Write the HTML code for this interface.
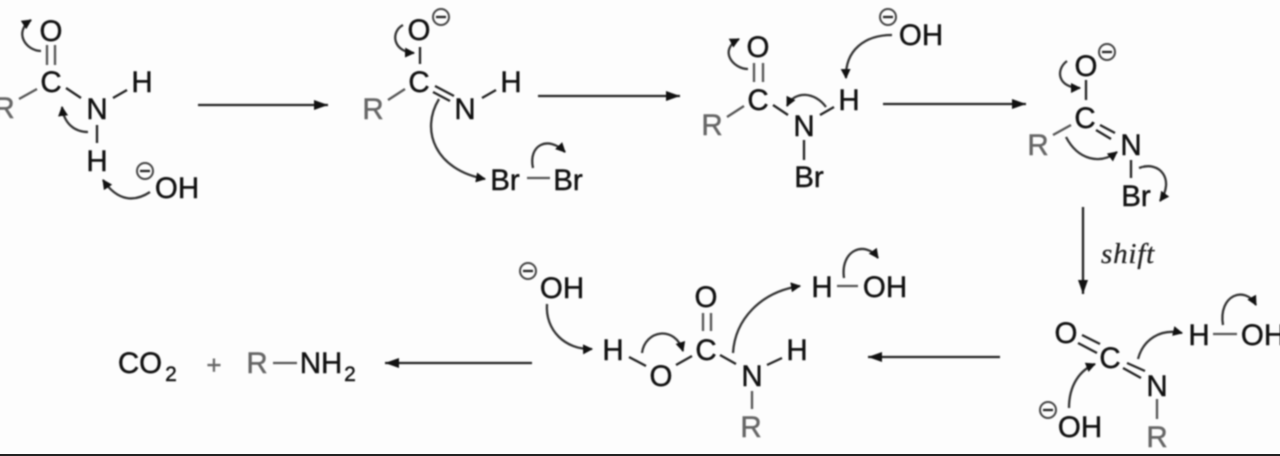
<!DOCTYPE html>
<html><head><meta charset="utf-8"><style>
html,body{margin:0;padding:0;background:#fdfdfd}
svg{display:block;width:1280px;height:456px;overflow:hidden}
#m{filter:blur(.7px)}
text{font-family:"Liberation Sans",sans-serif;font-size:29.5px;fill:#111;stroke:#111;stroke-width:.45px;text-anchor:middle}
.r{fill:#666;stroke:#666}
.s{font-size:21px}
.sh{font-family:"Liberation Serif",serif;font-style:italic;font-size:29px;letter-spacing:.8px;fill:#222;stroke:#222;stroke-width:.3px;text-anchor:start}
.b{stroke:#222;stroke-width:2.3;fill:none}
.g{stroke:#555;stroke-width:2.3;fill:none}
.c{stroke:#333;stroke-width:2.3;fill:none;marker-end:url(#hc)}
.a{stroke:#222;stroke-width:2.3;fill:none;marker-end:url(#ha)}
.m{fill:none;stroke:#444;stroke-width:2}
</style></head><body>
<svg xmlns="http://www.w3.org/2000/svg" width="1280" height="456" viewBox="0 0 1280 456">
<defs>
<marker id="hc" markerUnits="userSpaceOnUse" markerWidth="14" markerHeight="12" refX="9" refY="5" orient="auto"><path d="M0,0 L10,5 L0,10 Z" fill="#111"/></marker>
<marker id="ha" markerUnits="userSpaceOnUse" markerWidth="18" markerHeight="12" refX="14" refY="5" orient="auto"><path d="M0,0 L14,5 L0,10 Z" fill="#111"/></marker>
</defs>
<rect width="1280" height="456" fill="#fdfdfd"/>
<g id="m">
<!-- molecule 1 -->
<text x="51" y="41">O</text><text x="51" y="92">C</text><text class="r" x="4" y="118">R</text><text x="97" y="119">N</text><text x="142" y="92">H</text><text x="97" y="171">H</text><text x="177" y="198">OH</text>
<circle class="m" cx="145" cy="171" r="8"/><path class="b" d="M140,171H150"/>
<path class="g" d="M47,45V65M55,45V65M19,99L37,89"/><path class="b" d="M66,88L81,98M113,98L127,90M97,125V143"/>
<path class="c" d="M41,51C26,51 13,32 31,20"/><path class="c" d="M88,132C75,132 64,124 62,107"/><path class="c" d="M150,192C135,202 118,202 103,180"/>
<path class="a" d="M198,105H328"/>
<!-- molecule 2 -->
<text x="419" y="40">O</text><text x="419" y="92">C</text><text class="r" x="373" y="119">R</text><text x="465" y="119">N</text><text x="511" y="92">H</text><text x="505" y="190">Br</text><text x="568" y="190">Br</text>
<circle class="m" cx="441" cy="17" r="8"/><path class="b" d="M436,17H446"/>
<path class="b" d="M420,47V64M435,86L454,96M433,92L450,101M482,98L496,90"/><path class="g" d="M388,100L405,89M527,178H550"/>
<path class="c" d="M403,25C390,32 393,52 414,53"/><path class="c" d="M439,99C420,130 435,170 485,179"/><path class="c" d="M533,168C528,145 548,135 565,152"/>
<path class="a" d="M538,96H680"/>
<!-- molecule 3 -->
<text x="758" y="57">O</text><text x="758" y="110">C</text><text class="r" x="712" y="135">R</text><text x="804" y="136">N</text><text x="849" y="110">H</text><text x="809" y="187">Br</text><text x="921" y="45">OH</text>
<circle class="m" cx="888" cy="17" r="8"/><path class="b" d="M883,17H893"/>
<path class="g" d="M754,63V82M763,63V82M727,117L744,106"/><path class="b" d="M773,105L788,115M820,115L834,107M804,140V160"/>
<path class="c" d="M748,69C733,69 718,50 739,39"/><path class="c" d="M826,107C815,92 795,90 787,106"/><path class="c" d="M892,35C865,35 845,50 846,78"/>
<path class="a" d="M883,104H1026"/>
<!-- molecule 4 -->
<text x="1086" y="76">O</text><text x="1085" y="128">C</text><text class="r" x="1038" y="155">R</text><text x="1131" y="155">N</text><text x="1136" y="206">Br</text>
<circle class="m" cx="1107" cy="52" r="8"/><path class="b" d="M1102,52H1112"/>
<path class="b" d="M1086,80V100M1100,125L1115,133M1096,130L1111,139M1131,160V178"/><path class="g" d="M1053,135L1071,125"/>
<path class="c" d="M1067,61C1055,70 1058,88 1080,88"/><path class="c" d="M1066,137C1078,160 1100,165 1117,152"/><path class="c" d="M1139,168C1160,160 1175,180 1160,201"/>
<path class="a" d="M1083,207V294"/>
<text class="sh" x="1101" y="263">shift</text>
<!-- molecule 5 -->
<text x="1066" y="343">O</text><text x="1110" y="368">C</text><text x="1157" y="396">N</text><text class="r" x="1157" y="447">R</text><text x="1199" y="345">H</text><text x="1263" y="345">OH</text><text x="1080" y="437">OH</text>
<circle class="m" cx="1048" cy="410" r="8"/><path class="b" d="M1043,410H1053"/>
<path class="b" d="M1082,335L1100,344M1078,343L1097,353M1127,363L1145,371M1123,368L1141,378"/><path class="g" d="M1157,399V419M1213,334H1237"/>
<path class="c" d="M1069,408C1069,385 1080,370 1095,364"/><path class="c" d="M1138,359C1143,340 1160,328 1182,333"/><path class="c" d="M1223,325C1218,295 1245,285 1256,305"/>
<path class="a" d="M1000,357H868"/>
<!-- molecule 6 -->
<text x="706" y="307">O</text><text x="706" y="360">C</text><text x="752" y="386">N</text><text class="r" x="751" y="437">R</text><text x="797" y="360">H</text><text x="661" y="386">O</text><text x="613" y="360">H</text><text x="562" y="298">OH</text><text x="822" y="297">H</text><text x="885" y="297">OH</text>
<circle class="m" cx="528" cy="271" r="8"/><path class="b" d="M523,271H533"/>
<path class="g" d="M703,313V331M711,313V331M837,286H858M752,391V409"/><path class="b" d="M720,355L736,364M676,365L692,356M629,357L646,366M767,365L782,358"/>
<path class="c" d="M547,304C545,330 565,350 592,349"/><path class="c" d="M642,353C645,330 675,325 683,351"/><path class="c" d="M733,353C735,320 760,292 800,286"/><path class="c" d="M844,278C840,250 865,240 878,258"/>
<path class="a" d="M532,363H385"/>
<!-- products -->
<text x="140" y="373">CO</text><text class="s" x="171" y="381">2</text>
<text class="r" x="214" y="374" style="font-size:26px">+</text>
<text class="r" x="257" y="373">R</text><path class="g" d="M273,363H297"/>
<text x="321" y="373">NH</text><text class="s" x="350" y="381">2</text>
</g>
<rect x="0" y="454" width="1280" height="2" fill="#222"/>
</svg>
</body></html>
